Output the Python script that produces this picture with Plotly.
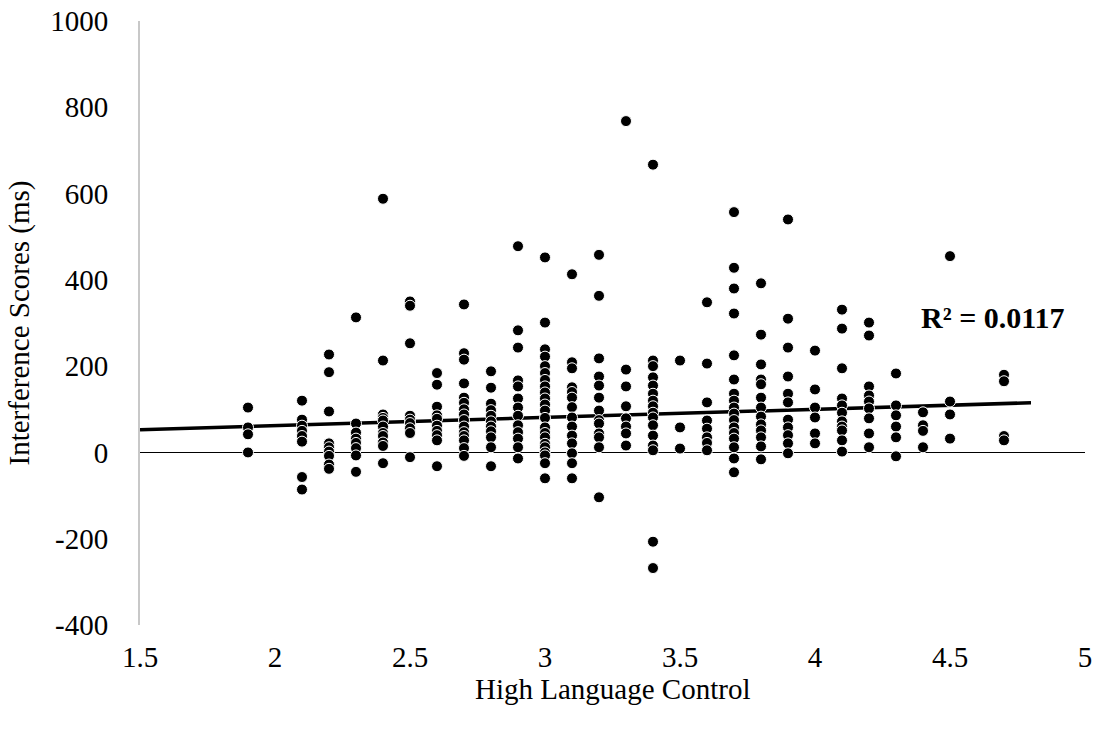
import numpy as np
import plotly.graph_objects as go

# Language-control rating levels (x) and the interference scores recorded at each level
X_LEVELS = [1.9, 2.1, 2.2, 2.3, 2.4, 2.5, 2.6, 2.7, 2.8, 2.9, 3.0, 3.1, 3.2, 3.3,
            3.4, 3.5, 3.6, 3.7, 3.8, 3.9, 4.0, 4.1, 4.2, 4.3, 4.4, 4.5, 4.7]

SCORES = [
    [104, 58, 42, 0],
    [120, 76, 62, 50, 38, 25, -57, -86],
    [227, 186, 95, 21, 12, 2, -8, -28, -38],
    [313, 67, 46, 32, 22, 10, -7, -45],
    [588, 213, 88, 80, 74, 60, 45, 38, 23, 15, -25],
    [350, 340, 253, 85, 76, 68, 56, 45, -11],
    [184, 157, 106, 86, 78, 62, 50, 40, 28, -32],
    [343, 230, 215, 160, 127, 115, 100, 88, 75, 60, 47, 38, 28, 10, -8],
    [188, 150, 113, 98, 85, 72, 60, 49, 35, 12, -32],
    [478, 283, 243, 167, 153, 125, 104, 85, 63, 47, 32, 12, -14],
    [452, 301, 239, 222, 200, 184, 168, 153, 139, 125, 111, 97, 80, 58, 45, 35, 20, 12, 0, -7, -25, -60],
    [413, 209, 195, 151, 140, 127, 105, 81, 60, 39, 21, -2, -25, -60],
    [458, 363, 218, 176, 155, 127, 97, 75, 67, 44, 35, 12, -104],
    [768, 192, 153, 107, 79, 60, 44, 16],
    [667, 213, 200, 174, 155, 136, 120, 107, 92, 81, 63, 39, 16, 5, -207, -268],
    [213, 58, 9],
    [348, 206, 116, 74, 55, 35, 22, 5],
    [557, 428, 380, 322, 225, 169, 136, 120, 104, 90, 75, 58, 45, 32, 12, -14, -46],
    [392, 273, 204, 169, 158, 127, 104, 83, 65, 51, 35, 14, -16],
    [540, 310, 243, 176, 136, 116, 76, 58, 40, 21, -2],
    [236, 146, 104, 81, 44, 21],
    [331, 287, 195, 125, 109, 92, 72, 60, 51, 28, 2],
    [301, 271, 153, 132, 118, 102, 79, 44, 12],
    [183, 109, 86, 60, 35, -9],
    [93, 63, 50, 12],
    [455, 118, 88, 32],
    [180, 165, 38, 28],
]

# Linear trendline (Excel-style) and its reported fit
TREND_X = [1.5, 4.8]
TREND_SLOPE = 19.0
TREND_INTERCEPT = 24.0
R2_LABEL = "R² = 0.0117"

X_TICKS = [1.5, 2, 2.5, 3, 3.5, 4, 4.5, 5]
Y_TICKS = [-400, -200, 0, 200, 400, 600, 800, 1000]

FONT = "Liberation Serif, Times New Roman, serif"
FS = 29

xs = [x for x, col in zip(X_LEVELS, SCORES) for _ in col]
ys = [y for col in SCORES for y in col]

trend_y = [TREND_INTERCEPT + TREND_SLOPE * x for x in TREND_X]

fig = go.Figure()
fig.add_trace(go.Scatter(
    x=TREND_X, y=trend_y, mode="lines",
    line=dict(color="black", width=3.5),
    hoverinfo="skip", showlegend=False,
))
fig.add_trace(go.Scatter(
    x=xs, y=ys, mode="markers",
    marker=dict(size=11, color="black", line=dict(color="white", width=1)),
    showlegend=False,
))

# Trendline fit label
fig.add_annotation(
    x=4.66, y=313, text="<b>" + R2_LABEL + "</b>", showarrow=False,
    font=dict(family=FONT, size=30, color="black"),
)

# x-axis title set close under the tick labels
fig.add_annotation(
    x=0.5, xref="paper", y=-0.106, yref="paper", yanchor="middle",
    text="High Language Control", showarrow=False,
    font=dict(family=FONT, size=FS, color="black"),
)

fig.update_layout(
    width=1098, height=732,
    margin=dict(l=140, r=13, t=21, b=107),
    paper_bgcolor="white", plot_bgcolor="white",
    font=dict(family=FONT, size=FS, color="black"),
    xaxis=dict(
        range=[1.5, 5], tickvals=X_TICKS, ticktext=[f"{v:g}" for v in X_TICKS],
        showgrid=False, zeroline=False, showline=False, ticks="",
        automargin=False, ticklabelstandoff=12,
        tickfont=dict(family=FONT, size=FS),
    ),
    yaxis=dict(
        range=[-400, 1000], tickvals=Y_TICKS, ticktext=[str(v) for v in Y_TICKS],
        showgrid=False, zeroline=True, zerolinecolor="black", zerolinewidth=1.3,
        showline=True, linecolor="#c8c8c8", linewidth=2, ticks="",
        automargin=False, ticklabelstandoff=24,
        title=dict(text="Interference Scores (ms)", standoff=12,
                   font=dict(family=FONT, size=FS)),
        tickfont=dict(family=FONT, size=FS),
    ),
)

fig.write_html("out.html")
